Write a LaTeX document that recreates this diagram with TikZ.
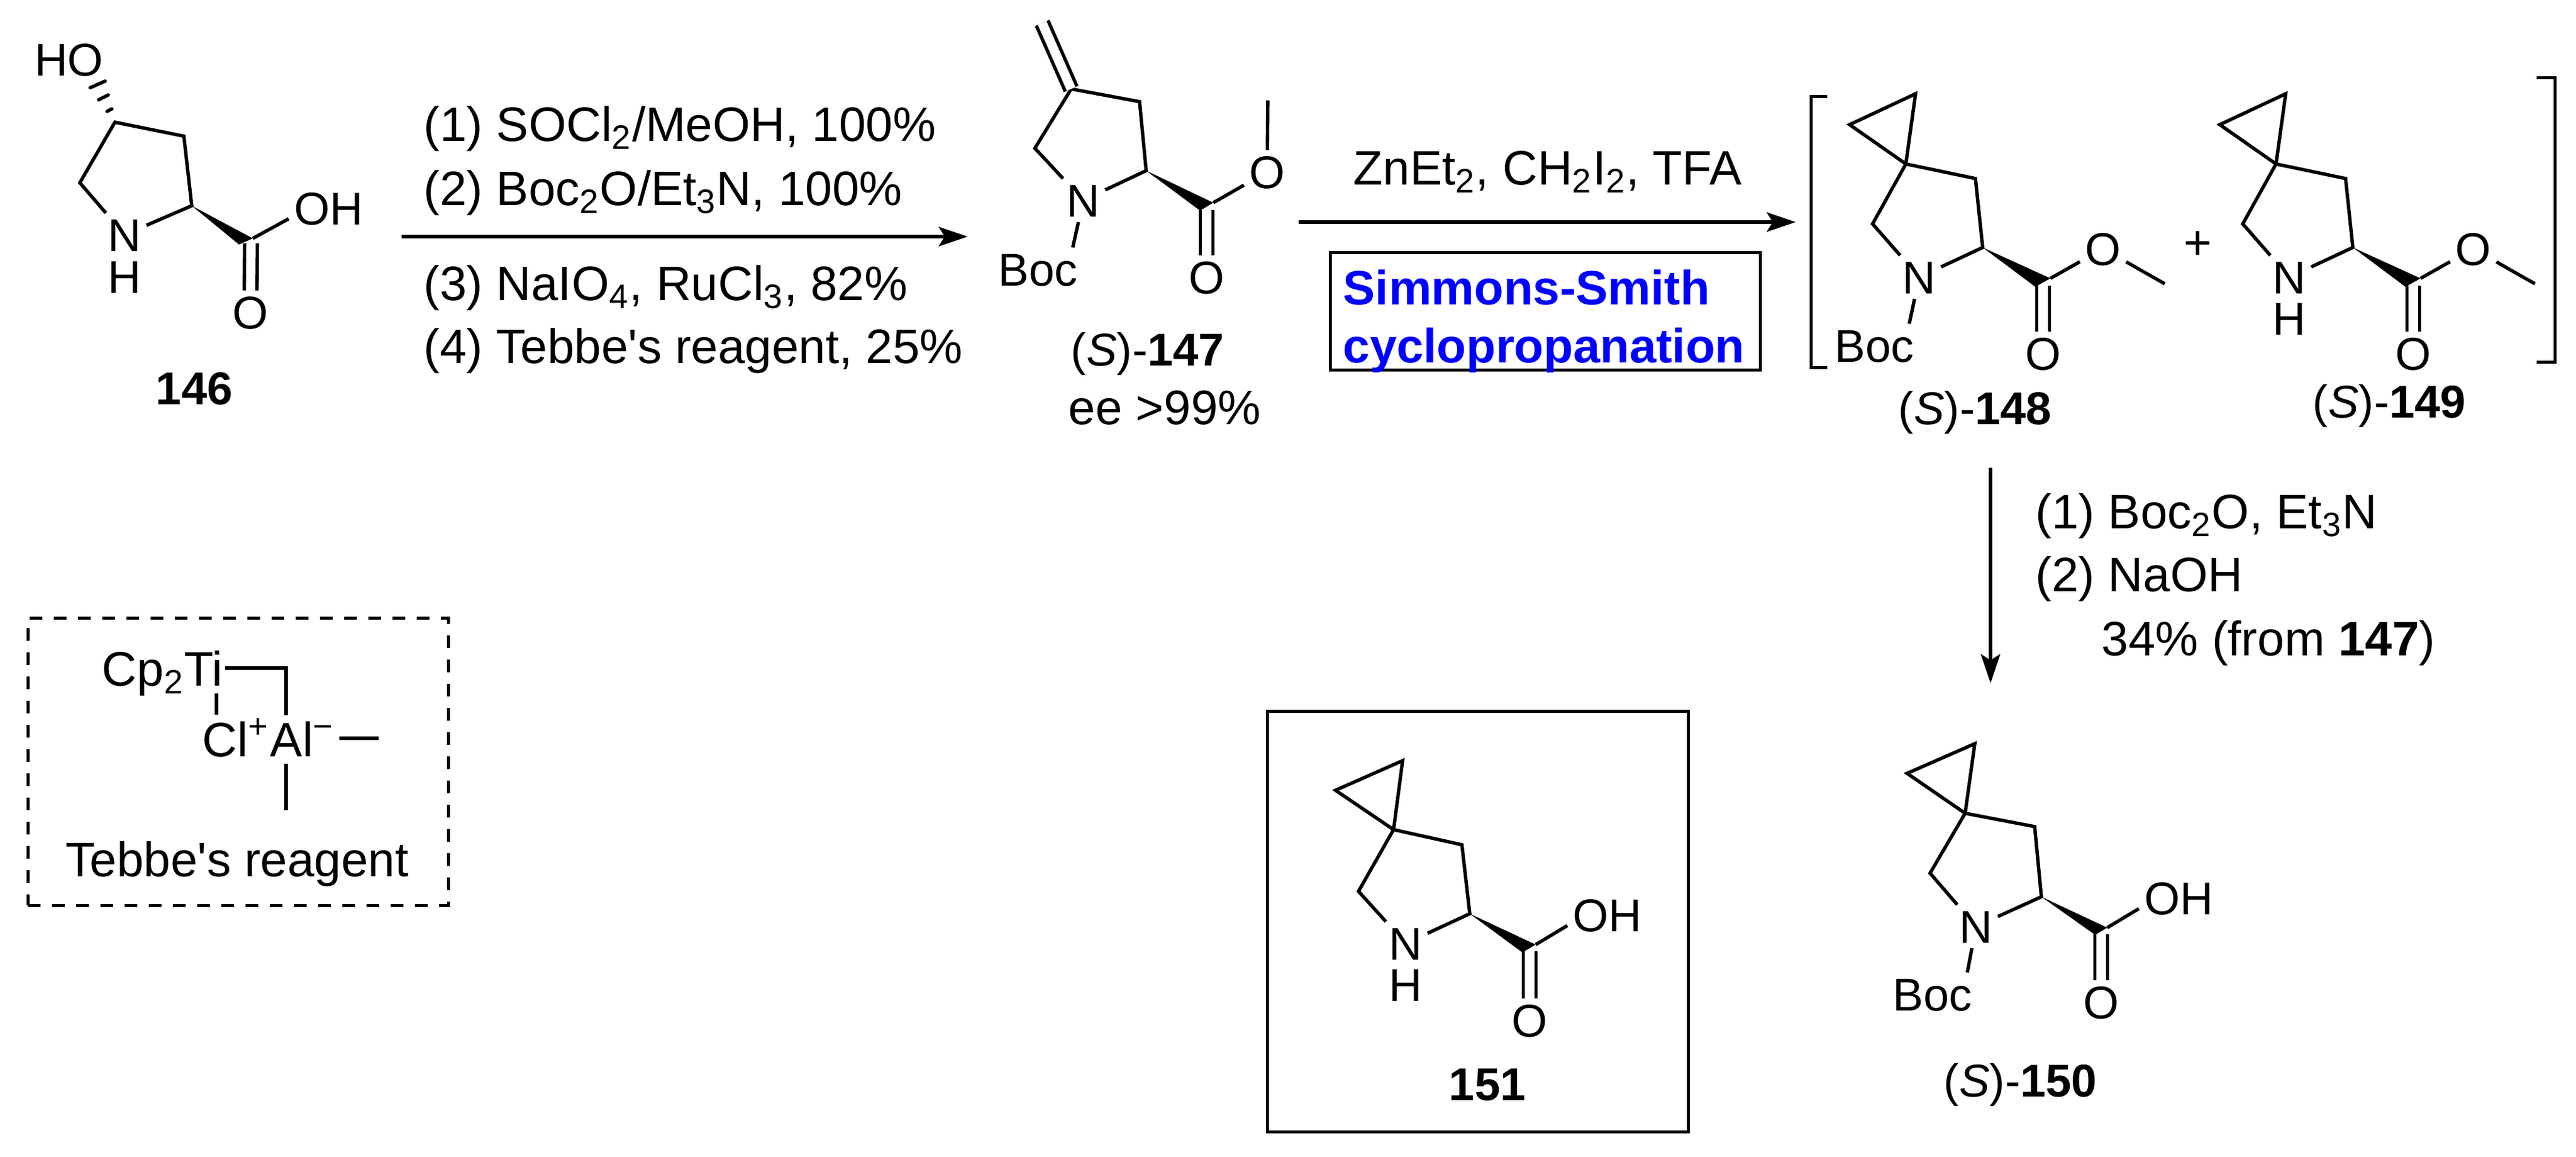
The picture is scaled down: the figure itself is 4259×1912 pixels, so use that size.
\documentclass[tikz,border=0pt]{standalone}
\usepackage{fontspec}
\setmainfont{Liberation Sans}
\usetikzlibrary{arrows.meta,calc}

\begin{document}
\begin{tikzpicture}[x=0.25pt, y=-0.25pt, >={Stealth[length=12pt,width=8pt,inset=2.5pt]},
    bond/.style={line width=1.4pt},
    dbond/.style={double, line width=1.4pt, double distance=3.85pt},
    arrowline/.style={->, line width=1.3pt},
    frame/.style={line width=1.25pt},
    atom/.style={inner sep=2pt, text height=13.6pt, text depth=0pt, font=\fontsize{19}{23}\selectfont},
    cmpd/.style={inner sep=0pt, anchor=base west, font=\fontsize{19}{23}\selectfont},
    cond/.style={inner sep=0pt, anchor=base west, font=\fontsize{20}{24}\selectfont},
    bluetext/.style={inner sep=0pt, anchor=base west, text=blue, font=\fontsize{19.9}{24}\selectfont\bfseries}]
\useasboundingbox (0,0) rectangle (4259,1912);

% 146
\foreach \n/\x/\y in {c5/132/302, c4/190/202, c3/304/225, c2/317/340, c/418/394, d/415/402, w/395/404}
  \coordinate (\n-146) at (\x,\y);
\node [atom] (ho-146) at (114,98) {HO};
\node [atom] (n-146) at (206,388) {N};
\node [atom] (h-146) at (206,457) {H};
\node [atom] (oh-146) at (543,344) {OH};
\node [atom] (o-146) at (414,516) {O};
\draw [bond] (n-146) -- (c5-146) -- (c4-146) -- (c3-146) -- (c2-146) -- (n-146);
\draw [bond] (c-146) -- (oh-146.195);
\draw [dbond] (d-146) -- (o-146);
\fill (c2-146) -- (c-146) -- (w-146) -- cycle;
\foreach \ax/\ay/\bx/\by in {149/145/174/134, 163/165/179/157, 177/184/185/180}
  \draw [bond, line cap=round] (\ax,\ay) -- (\bx,\by);
\node [cmpd] (label-146) at (257,669) {\textbf{146}};

% step to 147
\coordinate (start-1) at (664,391);
\coordinate (end-1) at (1600,391);
\draw [arrowline] (start-1) -- (end-1);
\node [cond] (cond-1-1) at (700,234) {(1) SOCl\textsubscript{2}/MeOH, 100\%};
\node [cond] (cond-1-2) at (700,340) {(2) Boc\textsubscript{2}O/Et\textsubscript{3}N, 100\%};
\node [cond] (cond-1-3) at (700,497) {(3) NaIO\textsubscript{4}, RuCl\textsubscript{3}, 82\%};
\node [cond] (cond-1-4) at (700,601) {(4) Tebbe\textquotesingle s reagent, 25\%};

% 147
\foreach \n/\x/\y in {ch2/1723/38, c4/1771/147, c5/1711/245, c3/1884/168, c2/1895/282, c/2006/335, d/1995/347, w/1984/348, me/2096/166}
  \coordinate (\n-147) at (\x,\y);
\node [atom] (n-147) at (1791,331) {N};
\node [atom] (boc-147) at (1716,445) {Boc};
\node [atom] (o1-147) at (2095,284) {O};
\node [atom] (o2-147) at (1995,458) {O};
\draw [bond] (n-147) -- (c5-147) -- (c4-147) -- (c3-147) -- (c2-147) -- (n-147);
\draw [dbond] (c4-147) -- (ch2-147);
\draw [bond] (n-147) -- (boc-147.32);
\draw [bond] (c-147) -- (o1-147) -- (me-147);
\draw [dbond] (d-147) -- (o2-147);
\fill (c2-147) -- (c-147) -- (w-147) -- cycle;
\node [cmpd] (label-147) at (1770,605) {(\textit{S})-\textbf{147}};
\node [cond] (ee-147) at (1766,702) {ee >99\%};

% step to 148
\coordinate (start-2) at (2147,367);
\coordinate (end-2) at (2969,367);
\draw [arrowline] (start-2) -- (end-2);
\node [cond] (cond-2) at (2237,306) {ZnEt\textsubscript{2}, CH\textsubscript{2}I\textsubscript{2}, TFA};
\node [frame, draw, inner sep=0pt, minimum width=177.75pt, minimum height=48.5pt] (box-2) at (2554.5,515) {};
\node [bluetext] (name-2-1) at (2220,504) {Simmons-Smith};
\node [bluetext] (name-2-2) at (2220,600) {cyclopropanation};

% 148 and 149
\foreach \m/\dx in {148/0, 149/612} {
  \foreach \n/\x/\y in {c1/3058/206, c2/3167/155, c3/3151/271, c4/3266/295, c5/3278/409, c6/3096/370, c/3390/460, d/3378/472, w/3365/474, me/3579/469}
    \coordinate (\n-\m) at (\x+\dx,\y);
  \node [atom] (n-\m) at (3173+\dx,458) {N};
  \node [atom] (o1-\m) at (3477+\dx,411) {O};
  \node [atom] (o2-\m) at (3378+\dx,584) {O};
  \draw [bond] (c3-\m) -- (c1-\m) -- (c2-\m) -- (c3-\m) -- (c4-\m) -- (c5-\m) -- (n-\m) -- (c6-\m) -- (c3-\m);
  \draw [bond] (c-\m) -- (o1-\m) -- (me-\m);
  \draw [dbond] (d-\m) -- (o2-\m);
  \fill (c5-\m) -- (c-\m) -- (w-\m) -- cycle;
}
\node [atom] (boc-148) at (3099,571) {Boc};
\draw [bond] (n-148) -- (boc-148.32);
\node [atom] (h-149) at (3785,526) {H};
\node [cmpd] (label-148) at (3138,702) {(\textit{S})-\textbf{148}};
\node [cmpd] (label-149) at (3823,691) {(\textit{S})-\textbf{149}};
\node [font=\fontsize{20}{24}\selectfont, inner sep=0pt] (plus) at (3634,405) {+};

% brackets
\coordinate (bl-1) at (3021,160);
\coordinate (bl-2) at (2994,160);
\coordinate (bl-3) at (2994,608);
\coordinate (bl-4) at (3021,608);
\coordinate (br-1) at (4194,129);
\coordinate (br-2) at (4224,129);
\coordinate (br-3) at (4224,599);
\coordinate (br-4) at (4194,599);
\draw [frame] (bl-1) -- (bl-2) -- (bl-3) -- (bl-4);
\draw [frame] (br-1) -- (br-2) -- (br-3) -- (br-4);

% step to 150
\coordinate (start-3) at (3291,773);
\coordinate (end-3) at (3291,1129);
\draw [arrowline] (start-3) -- (end-3);
\node [cond] (cond-3-1) at (3365,874) {(1) Boc\textsubscript{2}O, Et\textsubscript{3}N};
\node [cond] (cond-3-2) at (3365,978) {(2) NaOH};
\node [cond] (cond-3-3) at (3474,1083) {34\% (from \textbf{147})};

% 150
\foreach \n/\x/\y in {c1/3153/1278, c2/3265/1229, c3/3249/1344, c4/3364/1366, c5/3375/1482, c6/3191/1443, c/3484/1533, d/3474/1544, w/3464/1545}
  \coordinate (\n-150) at (\x,\y);
\node [atom] (n-150) at (3267,1531) {N};
\node [atom] (boc-150) at (3195,1643) {Boc};
\node [atom] (oh-150) at (3602,1484) {OH};
\node [atom] (o-150) at (3474,1656) {O};
\draw [bond] (c3-150) -- (c1-150) -- (c2-150) -- (c3-150) -- (c4-150) -- (c5-150) -- (n-150) -- (c6-150) -- (c3-150);
\draw [bond] (n-150) -- (boc-150.32);
\draw [bond] (c-150) -- (oh-150.195);
\draw [dbond] (d-150) -- (o-150);
\fill (c5-150) -- (c-150) -- (w-150) -- cycle;
\node [cmpd] (label-150) at (3213,1812) {(\textit{S})-\textbf{150}};

% 151
\node [frame, draw, minimum width=174pt, minimum height=173.75pt, inner sep=0pt] (box-151) at (2443,1522.5) {};
\foreach \n/\x/\y in {c1/2208/1306, c2/2319/1257, c3/2304/1371, c4/2417/1396, c5/2430/1510, c6/2246/1473, c/2539/1561, d/2529/1572, w/2517/1574}
  \coordinate (\n-151) at (\x,\y);
\node [atom] (n-151) at (2324,1559) {N};
\node [atom] (h-151) at (2324,1627) {H};
\node [atom] (oh-151) at (2657,1512) {OH};
\node [atom] (o-151) at (2529,1686) {O};
\draw [bond] (c3-151) -- (c1-151) -- (c2-151) -- (c3-151) -- (c4-151) -- (c5-151) -- (n-151) -- (c6-151) -- (c3-151);
\draw [bond] (c-151) -- (oh-151.195);
\draw [dbond] (d-151) -- (o-151);
\fill (c5-151) -- (c-151) -- (w-151) -- cycle;
\node [cmpd] (label-151) at (2395,1818) {\textbf{151}};

% tebbe
\node [frame, draw, dash pattern=on 5.25pt off 4.75pt, minimum width=173.75pt, minimum height=118.5pt, inner sep=0pt] (box-tebbe) at (393.5,1259) {};
\node [cond] (ti) at (168,1134) {Cp\textsubscript{2}Ti};
\node [cond] (cl) at (334,1250) {Cl\textsuperscript{+}};
\node [cond] (al) at (446,1250) {Al\textsuperscript{−}};
\foreach \n/\x/\y in {t1/372/1104, t2/473/1104, t3/473/1182, t4/358/1146, t5/358/1181, a1/561/1220, a2/626/1220, a3/473/1262, a4/473/1339}
  \coordinate (\n) at (\x,\y);
\draw [bond] (t1) -- (t2) -- (t3);
\draw [bond] (t4) -- (t5);
\draw [bond] (a1) -- (a2);
\draw [bond] (a3) -- (a4);
\node [cond] (name-tebbe) at (108,1448) {Tebbe\textquotesingle s reagent};
\end{tikzpicture}
\end{document}
